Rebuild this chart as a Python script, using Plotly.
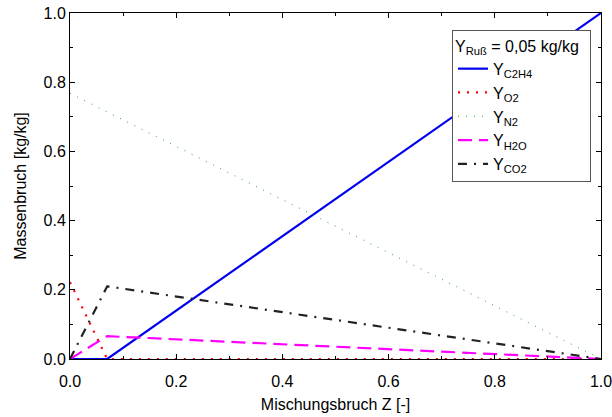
import plotly.graph_objects as go

z_st = 0.07
z = [0.0, z_st, 1.0]
y_c2h4 = [0.0, 0.0, 1.0]
y_o2 = [0.222, 0.0, 0.0]
y_n2 = [0.768, 0.714, 0.0]
y_h2o = [0.0, 0.066, 0.0]
y_co2 = [0.0, 0.21, 0.0]

names = ["Y<sub>C2H4</sub>", "Y<sub>O2</sub>", "Y<sub>N2</sub>", "Y<sub>H2O</sub>", "Y<sub>CO2</sub>"]
series = [y_c2h4, y_o2, y_n2, y_h2o, y_co2]
styles = [
    dict(color="#0000ee", width=2.2, dash="solid"),
    dict(color="#ff0000", width=2.2, dash="2px,7px"),
    dict(color="#22aa22", width=1, dash="1px,7px"),
    dict(color="#ff00ff", width=2.2, dash="14px,7px"),
    dict(color="#222222", width=2.2, dash="9px,7px,2px,7px"),
]

fig = go.Figure()
for n, s, st in zip(names, series, styles):
    fig.add_trace(go.Scatter(x=z, y=s, mode="lines", name=n, line=st))

font = dict(family="Liberation Sans, Arial, sans-serif", size=16, color="black")
axis_common = dict(
    showline=True, linecolor="black", linewidth=1, mirror="ticks",
    ticks="inside", ticklen=5, tickcolor="black", showgrid=False, zeroline=False,
    tickformat=".1f", tickfont=font, automargin=False, ticklabeloverflow="allow",
    minor=dict(dtick=0.1, ticks="inside", ticklen=3, tickcolor="black"),
)
fig.update_layout(
    width=612, height=417,
    margin=dict(l=70, r=11, t=13, b=58),
    paper_bgcolor="white", plot_bgcolor="white",
    font=font,
    showlegend=True,
    legend=dict(
        x=0.7194, y=0.951, xanchor="left", yanchor="top",
        bordercolor="#555555", borderwidth=1, bgcolor="white",
        title=dict(text="Y<sub>Ruß</sub> = 0,05 kg/kg&nbsp;&nbsp;", font=dict(size=16)),
        font=dict(size=16), tracegroupgap=0, itemwidth=30,
    ),
)
fig.update_xaxes(range=[0, 1], dtick=0.2, ticklabelstandoff=8,
                 title=dict(text="Mischungsbruch Z [-]", font=dict(size=16), standoff=9), **axis_common)
fig.update_yaxes(range=[0, 1], dtick=0.2,
                 title=dict(text="Massenbruch [kg/kg]", font=dict(size=16), standoff=12), **axis_common)

fig.write_html("out.html", config={"displayModeBar": False},
               post_script="document.body.style.margin='0';document.body.style.overflow='hidden';")
